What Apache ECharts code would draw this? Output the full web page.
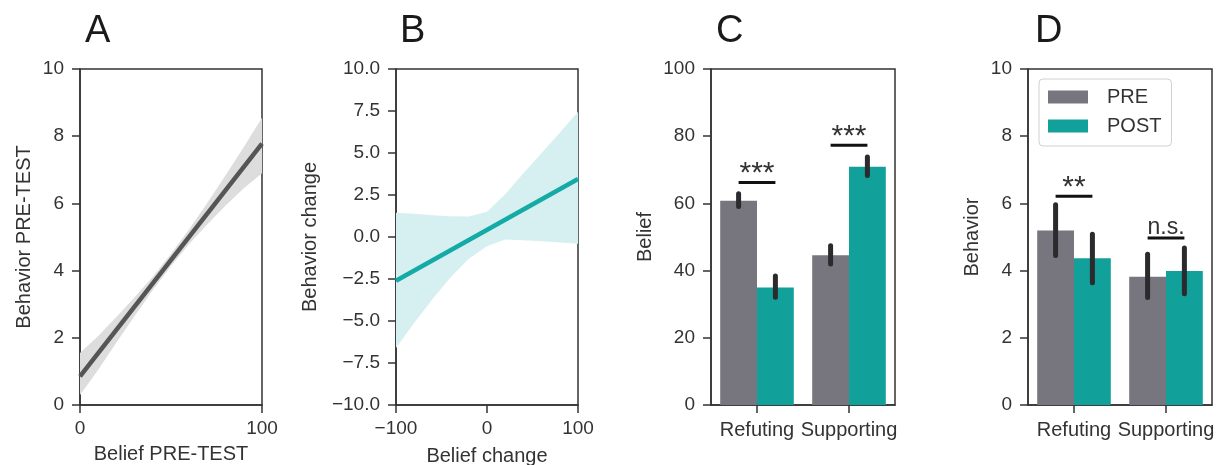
<!DOCTYPE html>
<html><head><meta charset="utf-8">
<script src="https://cdn.jsdelivr.net/npm/echarts@6/dist/echarts.min.js"></script>
<style>html,body{margin:0;padding:0;background:#fff}#c{width:1217px;height:465px}</style>
</head><body><div id="c"></div>
<script>
// ---- Panel A: Behavior PRE-TEST vs Belief PRE-TEST ----
const aBandX  = [0, 10, 20, 30, 40, 50, 60, 70, 80, 90, 100];
const aLower  = [0.30, 1.05, 1.86, 2.65, 3.42, 4.14, 4.79, 5.38, 5.94, 6.45, 6.90];
const aUpper  = [1.55, 2.05, 2.62, 3.21, 3.82, 4.50, 5.23, 6.02, 6.84, 7.68, 8.55];
const aLineX  = [0, 100];
const aLineY  = [0.85, 7.78];
// ---- Panel B: Behavior change vs Belief change ----
const bBandX  = [-100, -80, -60, -40, -20, 0, 20, 40, 60, 80, 100];
const bLower  = [-6.6, -5.1, -3.7, -2.4, -1.3, -0.55, -0.15, -0.2, -0.25, -0.32, -0.4];
const bUpper  = [1.45, 1.38, 1.30, 1.24, 1.22, 1.5, 2.55, 3.8, 5.0, 6.2, 7.45];
const bLineX  = [-100, 100];
const bLineY  = [-2.6, 3.45];
// ---- Panels C and D: bars ----
const categories = ['Refuting', 'Supporting'];
const seriesNames = ['PRE', 'POST'];
const beliefPre  = [60.8, 44.6];
const beliefPost = [35.0, 70.9];
const beliefPreCI  = [[59.1, 62.9], [42.0, 47.4]];
const beliefPostCI = [[32.1, 38.4], [68.3, 73.8]];
const behaviorPre  = [5.19, 3.82];
const behaviorPost = [4.37, 3.99];
const behaviorPreCI  = [[4.45, 5.96], [3.20, 4.49]];
const behaviorPostCI = [[3.64, 5.08], [3.31, 4.67]];
const sigC_Y = [66.2, 77.3];
const sigC_Labels = ['***', '***'];
const sigD_Y = [6.21, 4.97];
const sigD_Labels = ['**', 'n.s.'];
const panelTitles = ['A', 'B', 'C', 'D'];

const FONT = 'Liberation Sans, Arial, Helvetica, sans-serif';
const TXT = '#333333';
const AX = '#333333';
const GREY = '#77767f';
const TEAL = '#12a09b';

const chart = echarts.init(document.getElementById('c'), null, {renderer: 'canvas'});

const grids = [
  {left: 80, top: 69, width: 182, height: 336},
  {left: 396, top: 69, width: 182, height: 336},
  {left: 711, top: 69, width: 184, height: 336},
  {left: 1028, top: 69, width: 184, height: 336}
].map(g => Object.assign(g, {show: true, borderColor: AX, borderWidth: 1.5, backgroundColor: 'transparent', containLabel: false, outerBoundsMode: 'none'}));

const axisCommon = {
  axisLine: {show: true, onZero: false, lineStyle: {color: AX, width: 1.5}},
  axisTick: {show: true, length: 8, lineStyle: {color: AX, width: 1.5}},
  splitLine: {show: false},
  nameTextStyle: {color: TXT, fontSize: 20, fontFamily: FONT},
  nameLocation: 'middle'
};
const lbl = (m, extra) => Object.assign({color: TXT, fontSize: 19, fontFamily: FONT, margin: m, showMinLabel: true, showMaxLabel: true}, extra || {});
const minus = v => String(v).replace('-', '\u2212');

const xAxes = [
  Object.assign({}, axisCommon, {gridIndex: 0, type: 'value', min: 0, max: 100, interval: 100, name: 'Belief PRE-TEST', nameGap: 39, axisLabel: lbl(14)}),
  Object.assign({}, axisCommon, {gridIndex: 1, type: 'value', min: -100, max: 100, interval: 100, name: 'Belief change', nameGap: 41, axisLabel: lbl(14, {formatter: minus})}),
  Object.assign({}, axisCommon, {gridIndex: 2, type: 'category', data: categories, axisTick: Object.assign({}, axisCommon.axisTick, {alignWithLabel: true}), axisLabel: lbl(15, {interval: 0, fontSize: 20})}),
  Object.assign({}, axisCommon, {gridIndex: 3, type: 'category', data: categories, axisTick: Object.assign({}, axisCommon.axisTick, {alignWithLabel: true}), axisLabel: lbl(15, {interval: 0, fontSize: 20})})
];
const yAxes = [
  Object.assign({}, axisCommon, {gridIndex: 0, type: 'value', min: 0, max: 10, interval: 2, name: 'Behavior PRE-TEST', nameGap: 46, axisLabel: lbl(16)}),
  Object.assign({}, axisCommon, {gridIndex: 1, type: 'value', min: -10, max: 10, interval: 2.5, name: 'Behavior change', nameGap: 76, axisLabel: lbl(16, {formatter: v => minus(v.toFixed(1))})}),
  Object.assign({}, axisCommon, {gridIndex: 2, type: 'value', min: 0, max: 100, interval: 20, name: 'Belief', nameGap: 56, axisLabel: lbl(16)}),
  Object.assign({}, axisCommon, {gridIndex: 3, type: 'value', min: 0, max: 10, interval: 2, name: 'Behavior', nameGap: 46, axisLabel: lbl(16)})
];

function bandSeries(idx, xs, lo, hi, color) {
  return {
    type: 'custom', xAxisIndex: idx, yAxisIndex: idx, silent: true, z: 1,
    data: [[xs[0], lo[0]]],
    renderItem: (params, api) => {
      const pts = [];
      xs.forEach((x, i) => pts.push(api.coord([x, hi[i]])));
      for (let i = xs.length - 1; i >= 0; i--) pts.push(api.coord([xs[i], lo[i]]));
      return {type: 'polygon', shape: {points: pts}, style: {fill: color}};
    }
  };
}
function lineSeries(idx, xs, ys, color) {
  return {
    type: 'line', xAxisIndex: idx, yAxisIndex: idx, silent: true, z: 3,
    symbol: 'none', data: xs.map((x, i) => [x, ys[i]]),
    lineStyle: {color: color, width: 4.5}, itemStyle: {color: color}
  };
}
function barSeries(idx, name, vals, color) {
  return {
    type: 'bar', name: name, xAxisIndex: idx, yAxisIndex: idx, data: vals,
    barGap: '0%', barCategoryGap: '20%', itemStyle: {color: color}, silent: true, z: 2
  };
}
function errSeries(idx, preCI, postCI) {
  const data = [];
  preCI.forEach((c, i) => data.push([i, c[0], c[1], 0]));
  postCI.forEach((c, i) => data.push([i, c[0], c[1], 1]));
  return {
    type: 'custom', xAxisIndex: idx, yAxisIndex: idx, data: data, z: 5, silent: true,
    encode: {x: 0, y: [1, 2]},
    renderItem: (params, api) => {
      const cat = api.value(0), lo = api.value(1), hi = api.value(2), s = api.value(3);
      const band = api.size([1, 0])[0];
      const bw = band * 0.8 / 2;
      const off = (s === 0 ? -1 : 1) * bw / 2;
      const a = api.coord([cat, lo]), b = api.coord([cat, hi]);
      return {type: 'line', shape: {x1: a[0] + off, y1: a[1], x2: b[0] + off, y2: b[1]},
        style: {stroke: '#2b2b2e', lineWidth: 5, lineCap: 'round'}};
    }
  };
}
function sigSeries(idx, ys, labels) {
  return {
    type: 'custom', xAxisIndex: idx, yAxisIndex: idx, data: ys.map((y, i) => [i, y]), z: 6, silent: true,
    renderItem: (params, api) => {
      const i = params.dataIndex;
      const p = api.coord([api.value(0), api.value(1)]);
      const band = api.size([1, 0])[0];
      const half = band * 0.8 / 4;
      const isText = labels[i] === 'n.s.';
      return {type: 'group', children: [
        {type: 'line', shape: {x1: p[0] - half, y1: p[1], x2: p[0] + half, y2: p[1]}, style: {stroke: '#111', lineWidth: 3}},
        {type: 'text', x: p[0], y: isText ? p[1] + 1 : p[1] + 6,
         style: {text: labels[i], align: 'center', verticalAlign: 'bottom', fill: TXT,
                 fontSize: isText ? 23 : 30, fontFamily: FONT}}
      ]};
    }
  };
}

const option = {
  backgroundColor: '#ffffff',
  animation: false,
  title: panelTitles.map((t, i) => ({
    text: t, left: [80, 395, 711, 1030][i], top: 8,
    textStyle: {fontSize: 38, fontWeight: 'normal', color: '#1a1a1a', fontFamily: FONT}
  })),
  legend: {
    show: true, orient: 'vertical', left: 1039, top: 79,
    data: seriesNames, icon: 'rect', itemWidth: 40, itemHeight: 13, itemGap: 9,
    padding: [8, 10, 10, 9], borderColor: '#d0d0d0', borderWidth: 1, borderRadius: 4,
    backgroundColor: '#ffffff',
    textStyle: {color: TXT, fontSize: 20, fontFamily: FONT, padding: [0, 0, 0, 14], lineHeight: 20},
    selectedMode: false
  },
  grid: grids,
  xAxis: xAxes,
  yAxis: yAxes,
  series: [
    bandSeries(0, aBandX, aLower, aUpper, '#dddddd'),
    lineSeries(0, aLineX, aLineY, '#555558'),
    bandSeries(1, bBandX, bLower, bUpper, '#d6f0f2'),
    lineSeries(1, bLineX, bLineY, '#14aaa5'),
    barSeries(2, 'PRE', beliefPre, GREY),
    barSeries(2, 'POST', beliefPost, TEAL),
    errSeries(2, beliefPreCI, beliefPostCI),
    sigSeries(2, sigC_Y, sigC_Labels),
    barSeries(3, 'PRE', behaviorPre, GREY),
    barSeries(3, 'POST', behaviorPost, TEAL),
    errSeries(3, behaviorPreCI, behaviorPostCI),
    sigSeries(3, sigD_Y, sigD_Labels)
  ]
};
chart.setOption(option);
</script>
</body></html>
